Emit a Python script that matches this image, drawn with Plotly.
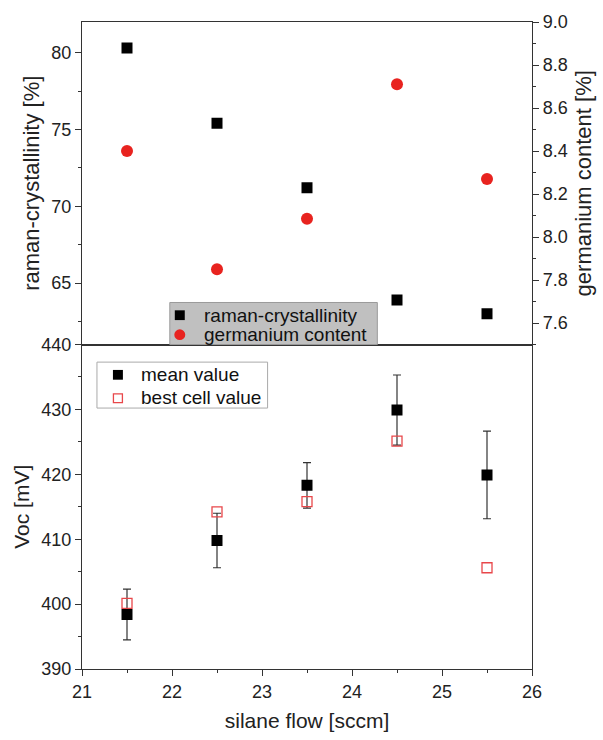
import plotly.graph_objects as go

# ---- data ----
silane_flow = [21.5, 22.5, 23.5, 24.5, 25.5]
raman_crystallinity = [80.3, 75.4, 71.2, 63.9, 63.0]
germanium_content = [8.40, 7.85, 8.085, 8.71, 8.27]
voc_mean = [398.4, 409.8, 418.3, 429.9, 419.9]
voc_err = [3.9, 4.2, 3.5, 5.4, 6.75]
voc_best = [400.1, 414.2, 415.8, 425.1, 405.6]

legend_top = ["raman-crystallinity", "germanium content"]
legend_bottom = ["mean value", "best cell value"]

FONT = "Liberation Sans, Arial, sans-serif"
RED = "#e8231f"
PINK = "#e8474a"

# plot-area geometry in pixels (for legend placement)
L, R, T, B = 82, 533, 13, 675
W, H = R - L, B - T


def px(x):
    return (x - L) / W


def py(y):
    return (B - y) / H


fig = go.Figure()

fig.add_trace(go.Scatter(
    x=silane_flow, y=raman_crystallinity, mode="markers", name=legend_top[0],
    marker=dict(symbol="square", size=11, color="black"),
    xaxis="x2", yaxis="y2"))
fig.add_trace(go.Scatter(
    x=silane_flow, y=germanium_content, mode="markers", name=legend_top[1],
    marker=dict(symbol="circle", size=12, color=RED),
    xaxis="x2", yaxis="y3"))

fig.add_trace(go.Scatter(
    x=silane_flow, y=voc_mean, mode="markers", name=legend_bottom[0],
    marker=dict(symbol="square", size=11, color="black"),
    error_y=dict(type="data", array=voc_err, color="#333333", thickness=1.2, width=4),
    xaxis="x", yaxis="y"))
fig.add_trace(go.Scatter(
    x=silane_flow, y=voc_best, mode="markers", name=legend_bottom[1],
    marker=dict(symbol="square-open", size=10, color=PINK, line=dict(width=1.3)),
    xaxis="x", yaxis="y"))

split = 332 / 662
axis_common = dict(showline=True, linecolor="#333333", linewidth=1.3, showgrid=False,
                   zeroline=False, tickfont=dict(family=FONT, size=18, color="#222222"),
                   tickcolor="#333333")

shapes = []
annotations = []

# top legend (grey box)
shapes.append(dict(type="rect", xref="paper", yref="paper", x0=px(170), x1=px(378),
                   y0=py(343), y1=py(300), fillcolor="#c0c0c0",
                   line=dict(color="#9a9a9a", width=1), layer="above"))
shapes.append(dict(type="rect", xref="paper", yref="paper", x0=px(175), x1=px(185),
                   y0=py(318), y1=py(308), fillcolor="black", line=dict(width=0), layer="above"))
shapes.append(dict(type="circle", xref="paper", yref="paper", x0=px(174.5), x1=px(185.5),
                   y0=py(338.5), y1=py(327.5), fillcolor=RED, line=dict(width=0), layer="above"))
for i, t in enumerate(legend_top):
    annotations.append(dict(text=t, xref="paper", yref="paper", x=px(202), y=py(313 + 20 * i),
                            xanchor="left", yanchor="middle", showarrow=False,
                            font=dict(family=FONT, size=19, color="#111111")))

# bottom legend (white box)
shapes.append(dict(type="rect", xref="paper", yref="paper", x0=px(97), x1=px(268),
                   y0=py(408), y1=py(361), fillcolor="white",
                   line=dict(color="#aaaaaa", width=1), layer="above"))
shapes.append(dict(type="rect", xref="paper", yref="paper", x0=px(113), x1=px(123),
                   y0=py(379), y1=py(369), fillcolor="black", line=dict(width=0), layer="above"))
shapes.append(dict(type="rect", xref="paper", yref="paper", x0=px(113.5), x1=px(122.5),
                   y0=py(402.5), y1=py(393.5), fillcolor="rgba(0,0,0,0)",
                   line=dict(color=PINK, width=1.3), layer="above"))
for i, t in enumerate(legend_bottom):
    annotations.append(dict(text=t, xref="paper", yref="paper", x=px(139), y=py(374 + 23 * i),
                            xanchor="left", yanchor="middle", showarrow=False,
                            font=dict(family=FONT, size=19, color="#111111")))

fig.update_layout(
    width=603, height=740,
    margin=dict(l=L, r=603 - R, t=T, b=740 - B),
    plot_bgcolor="white", paper_bgcolor="white",
    font=dict(family=FONT, color="#222222"),
    showlegend=False,
    shapes=shapes, annotations=annotations,
    xaxis=dict(**axis_common, range=[21, 26], dtick=1, tick0=21, ticks="outside", ticklen=6,
               tickwidth=1.3, mirror=True, anchor="y",
               minor=dict(dtick=0.5, ticklen=3, ticks="outside", tickcolor="#333333", showgrid=False),
               title=dict(text="silane flow [sccm]", font=dict(family=FONT, size=21), standoff=12)),
    yaxis=dict(**axis_common, domain=[0, split], range=[390, 440], dtick=10, tick0=390,
               ticks="outside", ticklen=6, tickwidth=1.3, mirror=True, anchor="x",
               minor=dict(dtick=5, ticklen=3, ticks="outside", tickcolor="#333333", showgrid=False),
               title=dict(text="Voc [mV]", font=dict(family=FONT, size=21), standoff=5)),
    xaxis2=dict(**axis_common, range=[21, 26], anchor="y2", matches="x", showticklabels=False,
                ticks="", mirror=True),
    yaxis2=dict(**axis_common, domain=[split, 1], range=[61, 82], dtick=5, tick0=60,
                ticks="outside", ticklen=6, tickwidth=1.3, anchor="x2",
                minor=dict(dtick=2.5, tick0=60, ticklen=3, ticks="outside", tickcolor="#333333", showgrid=False),
                title=dict(text="raman-crystallinity [%]", font=dict(family=FONT, size=22), standoff=5)),
    yaxis3=dict(**axis_common, overlaying="y2", side="right", anchor="x2", range=[7.5, 9.0],
                dtick=0.2, tick0=7.6, tickformat=".1f", ticks="outside", ticklen=6, tickwidth=1.3,
                minor=dict(dtick=0.1, ticklen=3, ticks="outside", tickcolor="#333333", showgrid=False),
                title=dict(text="germanium content [%]", font=dict(family=FONT, size=22), standoff=8)),
)

fig.write_html("out.html")
